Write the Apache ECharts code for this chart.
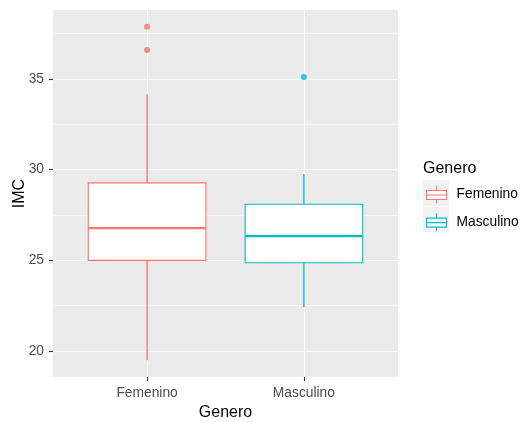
<!DOCTYPE html>
<html>
<head>
<meta charset="utf-8">
<script src="https://cdn.jsdelivr.net/npm/echarts@6/dist/echarts.min.js"></script>
<style>
  html, body { margin: 0; padding: 0; background: #fff; }
  #chart { width: 522px; height: 422px; }
</style>
</head>
<body>
<div id="chart"></div>
<script>
// categorías y estadísticas del boxplot (min, Q1, mediana, Q3, max)
const generos = ["Femenino", "Masculino"];
const colores = ["#F8766D", "#00BFC4"];
const femeninoStats = [19.5, 25.0, 26.78, 29.27, 34.16];
const masculinoStats = [22.43, 24.87, 26.34, 28.09, 29.76];
const femeninoOutliers = [37.87, 36.59];
const masculinoOutliers = [35.1];
const yTicks = [20, 25, 30, 35];
const yMinor = [22.5, 27.5, 32.5, 37.5];

const BOX_WIDTH = 0.75;
const FONT = "Liberation Sans, Arial, sans-serif";

const chart = echarts.init(document.getElementById("chart"));

// dibuja bigotes, caja y mediana al estilo ggplot (sin remates)
const renderBox = (params, api) => {
  const x = api.value(0);
  const lo = api.coord([x, api.value(1)]);
  const q1 = api.coord([x, api.value(2)]);
  const md = api.coord([x, api.value(3)]);
  const q3 = api.coord([x, api.value(4)]);
  const hi = api.coord([x, api.value(5)]);
  const half = api.size([BOX_WIDTH, 0])[0] / 2;
  const color = api.visual("color");
  return {
    type: "group",
    children: [
      { type: "line", shape: { x1: lo[0], y1: lo[1], x2: q1[0], y2: q1[1] }, style: { stroke: color, lineWidth: 1.4 } },
      { type: "line", shape: { x1: q3[0], y1: q3[1], x2: hi[0], y2: hi[1] }, style: { stroke: color, lineWidth: 1.4 } },
      {
        type: "rect",
        shape: { x: q3[0] - half, y: q3[1], width: half * 2, height: q1[1] - q3[1] },
        style: { fill: "#fff", stroke: color, lineWidth: 1.1 },
      },
      { type: "line", shape: { x1: md[0] - half, y1: md[1], x2: md[0] + half, y2: md[1] }, style: { stroke: color, lineWidth: 2.2 } },
    ],
  };
};

const boxSeries = (name, idx, stats) => ({
  name: name,
  type: "custom",
  renderItem: renderBox,
  itemStyle: { color: colores[idx] },
  encode: { x: 0, y: [1, 2, 3, 4, 5] },
  data: [[idx + 1].concat(stats)],
  z: 3,
});

const outlierSeries = (name, idx, values) => ({
  name: name,
  type: "scatter",
  symbolSize: 6,
  itemStyle: { color: colores[idx] },
  data: values.map((v) => [idx + 1, v]),
  z: 4,
});

// glifo de la leyenda: bigote, caja, mediana, bigote
const legendIcon = "path://M10,0V5M0,5H20V14H0ZM0,9.5H20M10,14V18";

chart.setOption({
  animation: false,
  title: {
    text: "Genero",
    left: 418,
    top: 156,
    textStyle: { fontFamily: FONT, fontSize: 16, fontWeight: "normal", color: "#000" },
  },
  legend: {
    orient: "vertical",
    left: 421,
    top: 180,
    itemWidth: 20,
    itemHeight: 18,
    itemGap: 8.5,
    selectedMode: false,
    data: generos.map((g, i) => ({
      name: g,
      icon: legendIcon,
      itemStyle: { color: "#fff", borderColor: colores[i], borderWidth: 1.1 },
    })),
    textStyle: { fontFamily: FONT, fontSize: 13.8, color: "#000", padding: [0, 0, 0, 5] },
  },
  graphic: [
    { type: "rect", left: 423, top: 180, shape: { width: 26, height: 26 }, style: { fill: "#F2F2F2" }, z: 0 },
    { type: "rect", left: 423, top: 206.5, shape: { width: 26, height: 25.5 }, style: { fill: "#F2F2F2" }, z: 0 },
  ],
  grid: {
    left: 53,
    top: 10,
    right: 124,
    bottom: 45,
    outerBoundsMode: "none",
    containLabel: false,
    show: true,
    backgroundColor: "#EBEBEB",
    borderWidth: 0,
  },
  xAxis: {
    type: "value",
    min: 0.4,
    max: 2.6,
    name: "Genero",
    nameLocation: "middle",
    nameGap: 27,
    nameTextStyle: { fontFamily: FONT, fontSize: 16, color: "#000" },
    axisLine: { show: false },
    axisTick: { show: true, length: 4, customValues: [1, 2], lineStyle: { color: "#333", width: 1.1 } },
    axisLabel: {
      customValues: [1, 2],
      margin: 9,
      formatter: (v) => generos[Math.round(v) - 1],
      fontFamily: FONT,
      fontSize: 13.8,
      color: "#4D4D4D",
    },
    splitLine: { show: true, lineStyle: { color: "#fff", width: 1.1 } },
  },
  yAxis: [
    {
      type: "value",
      min: 18.57,
      max: 38.8,
      name: "IMC",
      nameLocation: "middle",
      nameGap: 25,
      nameMoveOverlap: false,
      nameTextStyle: { fontFamily: FONT, fontSize: 16, color: "#000" },
      axisLine: { show: false },
      axisTick: { show: true, length: 4, customValues: yTicks, lineStyle: { color: "#333", width: 1.1 } },
      axisLabel: { customValues: yTicks, margin: 9, fontFamily: FONT, fontSize: 13.8, color: "#4D4D4D" },
      splitLine: { show: true, lineStyle: { color: "#fff", width: 1.1 } },
    },
    {
      type: "value",
      min: 18.57,
      max: 38.8,
      position: "left",
      axisLine: { show: false },
      axisTick: { show: false, customValues: yMinor },
      axisLabel: { show: false, customValues: yMinor },
      splitLine: { show: true, lineStyle: { color: "#fff", width: 0.55 } },
    },
  ],
  series: [
    boxSeries(generos[0], 0, femeninoStats),
    boxSeries(generos[1], 1, masculinoStats),
    outlierSeries(generos[0], 0, femeninoOutliers),
    outlierSeries(generos[1], 1, masculinoOutliers),
  ],
});

window.addEventListener("resize", () => chart.resize());
</script>
</body>
</html>
